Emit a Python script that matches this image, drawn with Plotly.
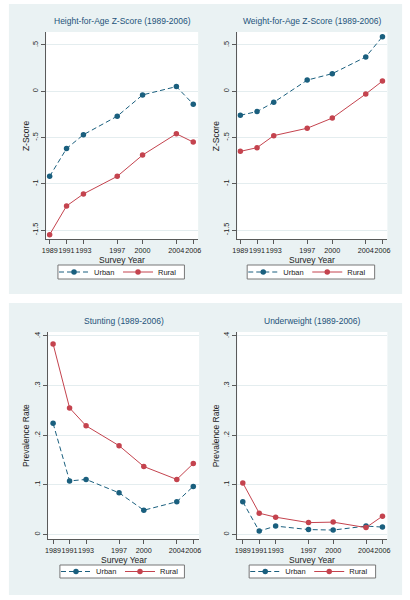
import plotly.graph_objects as go

# ---------------- data ----------------
years = [1989, 1991, 1993, 1997, 2000, 2004, 2006]
year_labels = ["1989", "1991", "1993", "1997", "2000", "2004", "2006"]

haz_urban = [-0.92, -0.62, -0.47, -0.27, -0.04, 0.05, -0.14]
haz_rural = [-1.55, -1.24, -1.11, -0.92, -0.69, -0.46, -0.55]
waz_urban = [-0.26, -0.22, -0.12, 0.12, 0.19, 0.37, 0.59]
waz_rural = [-0.65, -0.61, -0.48, -0.40, -0.29, -0.03, 0.11]
stunt_urban = [0.224, 0.108, 0.111, 0.084, 0.049, 0.066, 0.097]
stunt_rural = [0.384, 0.255, 0.219, 0.179, 0.137, 0.111, 0.143]
under_urban = [0.066, 0.007, 0.017, 0.010, 0.009, 0.017, 0.015]
under_rural = [0.104, 0.043, 0.035, 0.024, 0.025, 0.014, 0.037]

z_ticks = [-1.5, -1, -0.5, 0, 0.5]
z_tick_labels = ["-1.5", "-1", "-.5", "0", ".5"]
p_ticks = [0, 0.1, 0.2, 0.3, 0.4]
p_tick_labels = ["0", ".1", ".2", ".3", ".4"]

titles = ["Height-for-Age Z-Score (1989-2006)", "Weight-for-Age Z-Score (1989-2006)",
          "Stunting (1989-2006)", "Underweight (1989-2006)"]
ytitles = ["Z-Score", "Z-Score", "Prevalence Rate", "Prevalence Rate"]
xtitle = "Survey Year"
series_names = ["Urban", "Rural"]

# ---------------- layout helpers (pixels) ----------------
W, H = 410, 600
FONT = "Liberation Sans, Arial, sans-serif"
BG = "#EAF2F3"
URBAN = "#1a5f7e"
RURAL = "#c4434e"
TITLE_C = "#24527a"
AX_C = "#5a5a5a"

def px_x(x):
    return x / W

def px_y(y):
    return 1 - y / H

# plot boxes: (left, top, right, bottom) in px
boxes = [(42, 32, 197, 239), (237, 32, 390, 239),
         (44, 332, 198, 539), (237, 332, 390, 539)]
xranges = [[1988.59, 2006.58], [1988.65, 2006.59], [1988.4, 2006.71], [1988.34, 2006.6]]
yranges = [[-1.597, 0.64], [-1.597, 0.64], [-0.009, 0.408], [-0.009, 0.408]]
legend_boxes = [(54, 265, 183, 279), (247, 265, 377, 279),
                (56, 565, 183, 578), (249, 565, 378, 578)]
ytitle_x = [21, 215, 21, 215]

panels = [(haz_urban, haz_rural), (waz_urban, waz_rural),
          (stunt_urban, stunt_rural), (under_urban, under_rural)]

fig = go.Figure()

shapes = []
annotations = []
# row backgrounds
shapes.append(dict(type="rect", xref="paper", yref="paper", layer="below",
                   x0=px_x(4), x1=px_x(405), y0=px_y(294), y1=px_y(4),
                   fillcolor=BG, line=dict(width=0)))
shapes.append(dict(type="rect", xref="paper", yref="paper", layer="below",
                   x0=px_x(4), x1=px_x(405), y0=px_y(595), y1=px_y(303),
                   fillcolor=BG, line=dict(width=0)))

layout_axes = {}
for i in range(4):
    n = i + 1
    xa = "x" if n == 1 else f"x{n}"
    ya = "y" if n == 1 else f"y{n}"
    leg = "legend" if n == 1 else f"legend{n}"
    l, t, r, b = boxes[i]
    # white plot region
    shapes.append(dict(type="rect", xref="paper", yref="paper", layer="below",
                       x0=px_x(l), x1=px_x(r), y0=px_y(b), y1=px_y(t),
                       fillcolor="white", line=dict(width=0)))
    u, ru = panels[i]
    fig.add_trace(go.Scatter(x=years, y=u, name=series_names[0], mode="lines+markers",
                             line=dict(color=URBAN, width=1, dash="5px,3px"),
                             marker=dict(color=URBAN, size=5.5),
                             xaxis=xa, yaxis=ya, legend=leg))
    fig.add_trace(go.Scatter(x=years, y=ru, name=series_names[1], mode="lines+markers",
                             line=dict(color=RURAL, width=1),
                             marker=dict(color=RURAL, size=5.5),
                             xaxis=xa, yaxis=ya, legend=leg))
    is_z = i < 2
    layout_axes["xaxis" if n == 1 else f"xaxis{n}"] = dict(
        domain=[px_x(l), px_x(r)], range=xranges[i], anchor=ya,
        tickmode="array", tickvals=years, ticktext=year_labels, tickangle=0,
        ticks="outside", ticklen=4, tickcolor=AX_C, tickwidth=1,
        showline=True, linecolor=AX_C, linewidth=1, showgrid=False, zeroline=False,
        tickfont=dict(family=FONT, size=7.2, color="#222"), fixedrange=True)
    layout_axes["yaxis" if n == 1 else f"yaxis{n}"] = dict(
        domain=[px_y(b), px_y(t)], range=yranges[i], anchor=xa,
        tickmode="array", tickvals=z_ticks if is_z else p_ticks,
        ticktext=z_tick_labels if is_z else p_tick_labels, tickangle=-90,
        ticks="outside", ticklen=4, tickcolor=AX_C, tickwidth=1,
        showline=True, linecolor=AX_C, linewidth=1,
        showgrid=True, gridcolor="#E4EDEF", gridwidth=1, zeroline=False,
        tickfont=dict(family=FONT, size=7.4, color="#222"), fixedrange=True)
    cx = (l + r) / 2
    # title
    annotations.append(dict(text=titles[i], xref="paper", yref="paper",
                            x=px_x(cx), y=px_y(t - 11.5), xanchor="center", yanchor="middle",
                            showarrow=False, font=dict(family=FONT, size=8.5, color=TITLE_C)))
    # x title
    annotations.append(dict(text=xtitle, xref="paper", yref="paper",
                            x=px_x(cx), y=px_y(b + 20.5), xanchor="center", yanchor="middle",
                            showarrow=False, font=dict(family=FONT, size=8.5, color="#222")))
    # y title
    annotations.append(dict(text=ytitles[i], xref="paper", yref="paper", textangle=-90,
                            x=px_x(ytitle_x[i]), y=px_y((t + b) / 2), xanchor="center",
                            yanchor="middle", showarrow=False,
                            font=dict(family=FONT, size=8.5, color="#222")))
    # legend box
    ll, lt, lr, lb = legend_boxes[i]
    shapes.append(dict(type="rect", xref="paper", yref="paper", layer="above",
                       x0=px_x(ll), x1=px_x(lr), y0=px_y(lb), y1=px_y(lt),
                       fillcolor="white", line=dict(color="#777", width=1)))
    layout_axes[leg] = dict(orientation="h", x=px_x(ll - 4), y=px_y((lt + lb) / 2),
                            xanchor="left", yanchor="middle", bgcolor="rgba(0,0,0,0)",
                            borderwidth=0, entrywidth=19, entrywidthmode="pixels",
                            font=dict(family=FONT, size=7.5, color="#222"),
                            itemclick=False, itemdoubleclick=False)

fig.update_layout(width=W, height=H, margin=dict(l=0, r=0, t=0, b=0),
                  paper_bgcolor="white", plot_bgcolor="rgba(0,0,0,0)",
                  shapes=shapes, annotations=annotations, **layout_axes)

fig.write_html("out.html", config={"displayModeBar": False},
               post_script="document.body.style.margin='0';document.body.style.overflow='hidden';")
